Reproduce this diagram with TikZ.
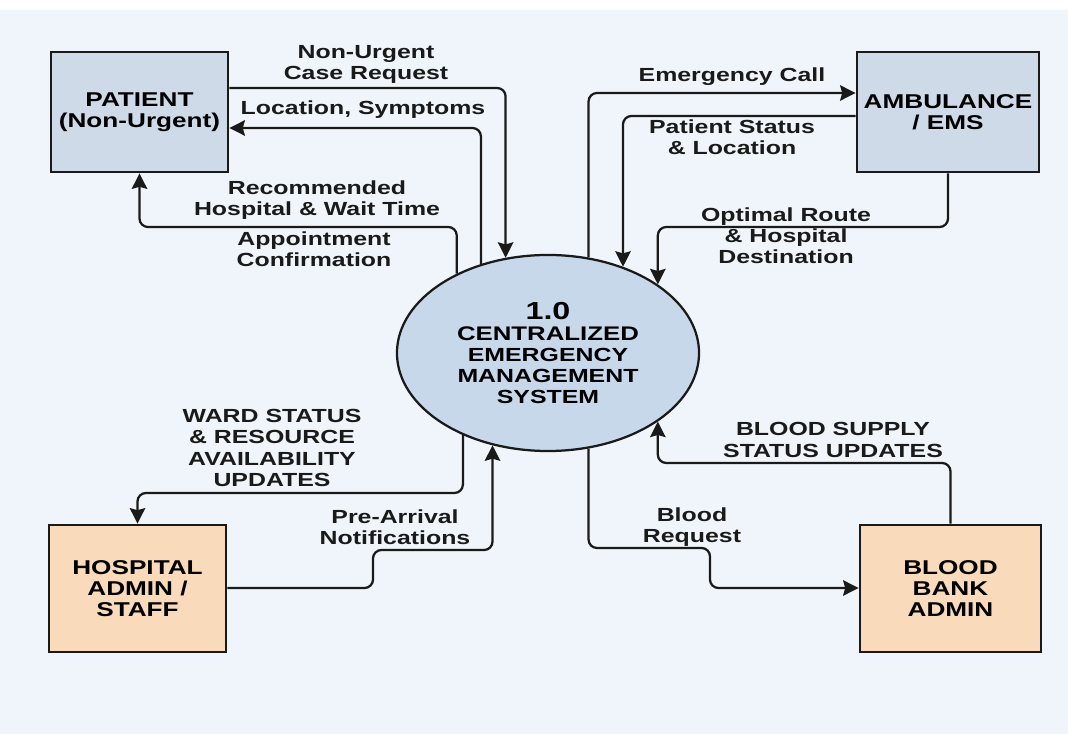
\documentclass[tikz,border=0pt]{standalone}
\usepackage{fontspec}
\setmainfont{Liberation Sans}[FakeStretch=1.31]
\usetikzlibrary{shapes.geometric,arrows.meta}

\definecolor{bgblue}{HTML}{EFF5FA}
\definecolor{entblue}{HTML}{CFDAE8}
\definecolor{entpeach}{HTML}{F9DABA}
\definecolor{sysblue}{HTML}{C8D8EB}
\definecolor{ink}{HTML}{1A1A1A}

\begin{document}
\begin{tikzpicture}[
    ->, % Arrow style
    > = {Stealth[length=11pt, width=11pt, inset=1.5pt]}, % arrow head style
    x = 0.025cm, y = -0.025cm, % one unit per pixel, y going down
    line width = 1.6pt, % line style
    draw = ink,
    font = \bfseries\fontsize{13.5}{15}\selectfont
  ]

  \tikzstyle{entity}=[rectangle, draw=ink, line width=2pt, align=center, inner sep=0pt,
    font=\bfseries\fontsize{14.2}{15}\selectfont]
  \tikzstyle{process}=[ellipse, draw=ink, line width=1.6pt, fill=sysblue, align=center, inner sep=0pt]
  \tikzstyle{flow}=[draw=ink, rounded corners=6pt]
  \tikzstyle{lbl}=[align=center, inner sep=0pt, text=ink]

  % background
  \fill[bgblue] (0,0) rectangle (1068,734);
  \fill[white] (0,0) rectangle (1068,10);

  \node[entity, fill=entblue, minimum width=4.425cm, minimum height=3cm] (pat) at (139.5,112) {PATIENT\\(Non-Urgent)};
  \node[entity, fill=entblue, minimum width=4.55cm, minimum height=3cm] (amb) at (948,112) {AMBULANCE\\/ EMS};
  \node[entity, fill=entpeach, minimum width=4.425cm, minimum height=3.175cm] (hos) at (137.5,588.5) {HOSPITAL\\ADMIN /\\STAFF};
  \node[entity, fill=entpeach, minimum width=4.525cm, minimum height=3.175cm] (bb) at (950.5,588.5) {BLOOD\\BANK\\ADMIN};
  \node[process, minimum width=7.55cm, minimum height=4.9cm] (sys) at (548,353)
    {{\fontsize{17.5}{19}\selectfont 1.0}\\[0pt]
     \fontsize{14}{14.6}\selectfont CENTRALIZED\\EMERGENCY\\MANAGEMENT\\SYSTEM};

  % patient flows
  \draw[flow] (pat.east |- 0,88) -| (sys.114);
  \draw[flow] (sys.127) |- (pat.east |- 0,128);
  \draw[flow] (sys.139) |- (pat.south |- 0,227) -- (pat.south);

  % ambulance flows
  \draw[flow] (sys.67) |- (amb.west |- 0,93);
  \draw[flow] (amb.west |- 0,116) -| (sys.49);
  \draw[flow] (amb.south) -- (amb.south |- 0,227) -| (sys.32);

  % hospital flows
  \draw[flow] (sys.224) |- (hos.north |- 0,493) -- (hos.north);
  \draw[flow] (hos.east |- 0,588) -- (373,588) -- (373,550) -| (sys.239);

  % blood bank flows
  \draw[flow] (sys.293) |- (710,548) -- (710,588) -- (bb.west |- 0,588);
  \draw[flow] (bb.north) -- (bb.north |- 0,463) -| (sys.328);

  % labels
  \node[lbl] (lNonUrgent) at (366,64) {Non-Urgent\\Case Request};
  \node[lbl] (lLocation) at (363,110) {Location, Symptoms};
  \node[lbl] (lRecommend) at (317,200) {Recommended\\Hospital \& Wait Time};
  \node[lbl] (lAppoint) at (314,249) {Appointment\\Confirmation};
  \node[lbl] (lEmergency) at (732,77) {Emergency Call};
  \node[lbl] (lStatus) at (732,137) {Patient Status\\\& Location};
  \node[lbl] (lRoute) at (786,236) {Optimal Route\\\& Hospital\\Destination};
  \node[lbl] (lWard) at (272,448) {WARD STATUS\\\& RESOURCE\\AVAILABILITY\\UPDATES};
  \node[lbl] (lPreArrival) at (395,527) {Pre-Arrival\\Notifications};
  \node[lbl] (lBloodReq) at (692,527) {Blood\\Request};
  \node[lbl] (lBloodSup) at (833,440) {BLOOD SUPPLY\\STATUS UPDATES};

\end{tikzpicture}
\end{document}
